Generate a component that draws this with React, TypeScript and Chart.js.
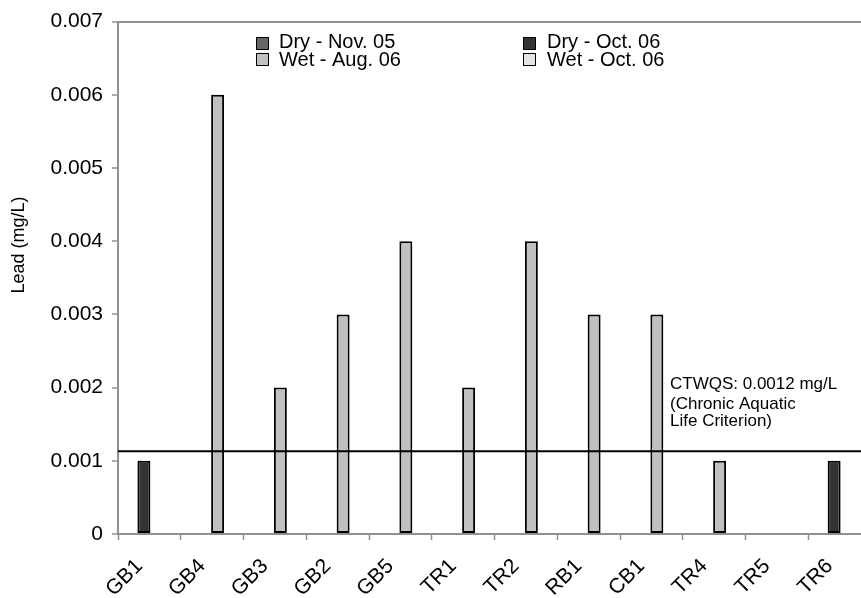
import React, { useEffect, useRef } from "react";
import { Chart, registerables } from "chart.js";

Chart.register(...registerables);

const categories = ["GB1", "GB4", "GB3", "GB2", "GB5", "TR1", "TR2", "RB1", "CB1", "TR4", "TR5", "TR6"];
const seriesLabels = ["Dry - Nov. 05", "Dry - Oct. 06", "Wet - Aug. 06", "Wet - Oct. 06"];
const seriesColors = ["#666666", "#333333", "#C0C0C0", "#E4E4E4"];
const dryNov05 = [null, null, null, null, null, null, null, null, null, null, null, null];
const dryOct06 = [0.001, null, null, null, null, null, null, null, null, null, null, 0.001];
const wetAug06 = [null, 0.006, 0.002, 0.003, 0.004, 0.002, 0.004, 0.003, 0.003, 0.001, null, null];
const wetOct06 = [null, null, null, null, null, null, null, null, null, null, null, null];
const yTicks = [0, 0.001, 0.002, 0.003, 0.004, 0.005, 0.006, 0.007];
const yTickLabels = ["0", "0.001", "0.002", "0.003", "0.004", "0.005", "0.006", "0.007"];
const criterionValue = 0.00113;
const criterionText = ["CTWQS: 0.0012 mg/L", "(Chronic Aquatic", "Life Criterion)"];
const yTitle = "Lead (mg/L)";

const FONT = "'Liberation Sans', Arial, sans-serif";

const overlayPlugin = {
  id: "overlay",
  afterDatasetsDraw(chart: any) {
    const { ctx, chartArea, scales } = chart;
    const y = scales.y.getPixelForValue(criterionValue);
    ctx.save();
    // criterion line
    ctx.strokeStyle = "#000";
    ctx.lineWidth = 2;
    ctx.beginPath();
    ctx.moveTo(chartArea.left, y);
    ctx.lineTo(chartArea.right, y);
    ctx.stroke();
    // criterion text
    ctx.fillStyle = "#000";
    ctx.font = `17px ${FONT}`;
    ctx.textAlign = "left";
    ctx.textBaseline = "alphabetic";
    const baselines = [389, 409, 426];
    criterionText.forEach((t, i) => ctx.fillText(t, 670, baselines[i]));
    // legend
    ctx.font = `20px ${FONT}`;
    const boxX = [256, 523];
    const textX = [279, 547];
    const boxY = [37, 53];
    const textY = [48, 66];
    seriesLabels.forEach((lab, i) => {
      const col = i % 2;
      const row = Math.floor(i / 2);
      ctx.fillStyle = seriesColors[i];
      ctx.fillRect(boxX[col], boxY[row], 12, 12);
      ctx.strokeStyle = "#000";
      ctx.lineWidth = 1;
      ctx.strokeRect(boxX[col] + 0.5, boxY[row] + 0.5, 12, 12);
      ctx.fillStyle = "#000";
      ctx.fillText(lab, textX[col], textY[row]);
    });
    // y title
    ctx.translate(19, 245);
    ctx.rotate(-Math.PI / 2);
    ctx.font = `18px ${FONT}`;
    ctx.textAlign = "center";
    ctx.textBaseline = "middle";
    ctx.fillText(yTitle, 0, 0);
    ctx.restore();
  },
};

export default function App() {
  const ref = useRef<HTMLCanvasElement>(null);
  useEffect(() => {
    if (!ref.current) return;
    const data = [dryNov05, dryOct06, wetAug06, wetOct06];
    const chart = new Chart(ref.current, {
      type: "bar",
      data: {
        labels: categories,
        datasets: data.map((d, i) => ({
          label: seriesLabels[i],
          data: d as any,
          backgroundColor: seriesColors[i],
          borderColor: "#000",
          borderWidth: 2,
          borderSkipped: false,
          categoryPercentage: 0.7,
          barPercentage: 1.18,
        })),
      },
      options: {
        animation: false,
        responsive: false,
        devicePixelRatio: 1,
        layout: { padding: { top: 21, right: 9, left: 0, bottom: 0 } },
        plugins: { legend: { display: false }, tooltip: { enabled: false } },
        scales: {
          x: {
            afterFit: (s: any) => {
              s.height = 64;
            },
            grid: {
              drawOnChartArea: false,
              drawTicks: true,
              tickLength: 6,
              tickColor: "#909090",
              tickWidth: 1.5,
              offset: true,
            },
            border: { color: "#909090", width: 2 },
            ticks: {
              minRotation: 45,
              maxRotation: 45,
              autoSkip: false,
              padding: 14,
              labelOffset: -10,
              color: "#000",
              font: { family: FONT, size: 21 },
            },
          },
          y: {
            min: 0,
            max: 0.007,
            afterFit: (s: any) => {
              s.width = 118;
            },
            afterBuildTicks: (s: any) => {
              s.ticks = yTicks.map((v) => ({ value: v }));
            },
            grid: {
              color: (c: any) => (c.index === yTicks.length - 1 ? "#909090" : "rgba(0,0,0,0)"),
              lineWidth: 2,
              drawTicks: true,
              tickLength: 6,
              tickColor: "#909090",
              tickWidth: 1.5,
            },
            border: { color: "#909090", width: 2 },
            ticks: {
              padding: 9,
              color: "#000",
              font: { family: FONT, size: 21 },
              callback: (_v: any, i: number) => yTickLabels[i],
            },
          },
        },
      },
      plugins: [overlayPlugin],
    });
    return () => chart.destroy();
  }, []);
  return (
    <div
      style={{
        position: "fixed",
        left: 0,
        top: 0,
        width: 861,
        height: 598,
        overflow: "hidden",
        background: "#fff",
      }}
    >
      <canvas ref={ref} width={880} height={598} style={{ display: "block", width: 880, height: 598 }} />
    </div>
  );
}
